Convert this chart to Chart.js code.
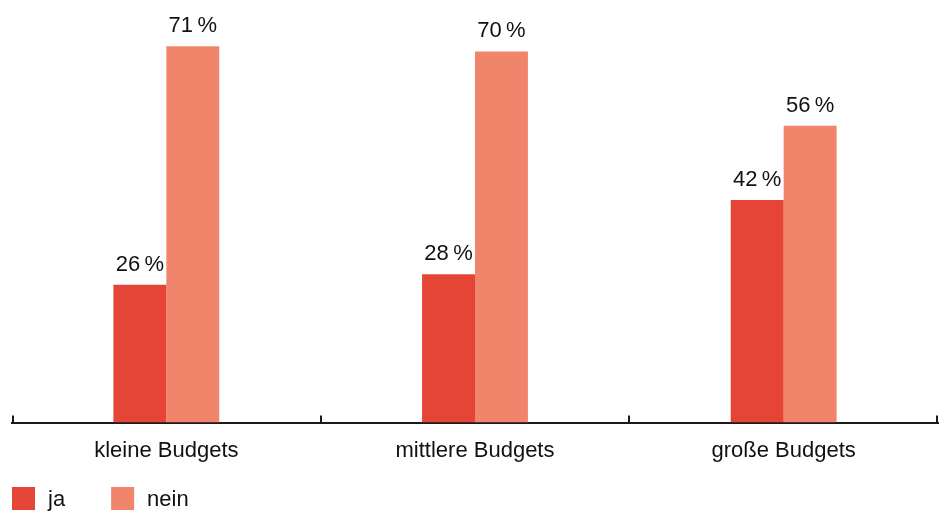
<!DOCTYPE html>
<html>
<head>
<meta charset="utf-8">
<script src="https://cdn.jsdelivr.net/npm/chart.js@4/dist/chart.umd.min.js"></script>
<style>
html,body{margin:0;padding:0;background:#fff;}
#wrap{width:949px;height:514px;position:relative;}
</style>
</head>
<body>
<div id="wrap"><canvas id="c" width="949" height="514"></canvas></div>
<script>
const categories = ["kleine Budgets", "mittlere Budgets", "große Budgets"];
const seriesNames = ["ja", "nein"];
const jaValues = [26, 28, 42];
const neinValues = [71, 70, 56];
const yMax = 79.7;

const FONT = "'Liberation Sans', Arial, sans-serif";
const colors = ["#E54537", "#F0856B"];

const upTicks = {
  id: 'upTicks',
  afterDatasetsDraw(chart) {
    const x = chart.scales.x, ctx = chart.ctx;
    const yb = chart.chartArea.bottom;
    ctx.save();
    ctx.strokeStyle = '#1a1a1a';
    ctx.lineWidth = 2;
    for (let i = 0; i <= categories.length; i++) {
      let px = Math.round(x.getPixelForValue(i - 0.5));
      if (i === 0) px += 1;
      if (i === categories.length) px -= 1;
      ctx.beginPath();
      ctx.moveTo(px, yb + 1);
      ctx.lineTo(px, yb - 7);
      ctx.stroke();
    }
    ctx.restore();
  }
};

const valueLabels = {
  id: 'valueLabels',
  afterDatasetsDraw(chart) {
    const ctx = chart.ctx;
    ctx.save();
    ctx.font = "22px " + FONT;
    ctx.fillStyle = '#111';
    ctx.textAlign = 'center';
    ctx.textBaseline = 'alphabetic';
    chart.data.datasets.forEach((ds, di) => {
      chart.getDatasetMeta(di).data.forEach((bar, i) => {
        ctx.fillText(ds.data[i] + "\u2009%", bar.x, bar.y - 14);
      });
    });
    ctx.restore();
  }
};

const bottomLegend = {
  id: 'bottomLegend',
  afterDraw(chart) {
    const ctx = chart.ctx;
    ctx.save();
    ctx.font = "22px " + FONT;
    ctx.textBaseline = 'middle';
    ctx.textAlign = 'left';
    let x = 12;
    const top = 487, size = 23;
    chart.data.datasets.forEach((ds) => {
      ctx.fillStyle = ds.backgroundColor;
      ctx.fillRect(x, top, size, size);
      ctx.fillStyle = '#111';
      ctx.fillText(ds.label, x + size + 13, top + size / 2 + 1);
      x += size + 13 + ctx.measureText(ds.label).width + 46;
    });
    ctx.restore();
  }
};

new Chart(document.getElementById('c'), {
  type: 'bar',
  data: {
    labels: categories,
    datasets: [
      { label: seriesNames[0], data: jaValues, backgroundColor: colors[0] },
      { label: seriesNames[1], data: neinValues, backgroundColor: colors[1] }
    ]
  },
  options: {
    responsive: false,
    animation: false,
    devicePixelRatio: 1,
    categoryPercentage: 0.343,
    barPercentage: 1,
    layout: { padding: { left: 12, right: 11, top: 0, bottom: 43 } },
    scales: {
      x: {
        grid: { display: false },
        border: { display: true, color: '#1a1a1a', width: 2, z: -1 },
        ticks: { color: '#111', font: { family: FONT, size: 22 }, padding: 7 }
      },
      y: { display: false, min: 0, max: yMax }
    },
    plugins: {
      tooltip: { enabled: false },
      legend: { display: false }
    }
  },
  plugins: [upTicks, valueLabels, bottomLegend]
});
</script>
</body>
</html>
